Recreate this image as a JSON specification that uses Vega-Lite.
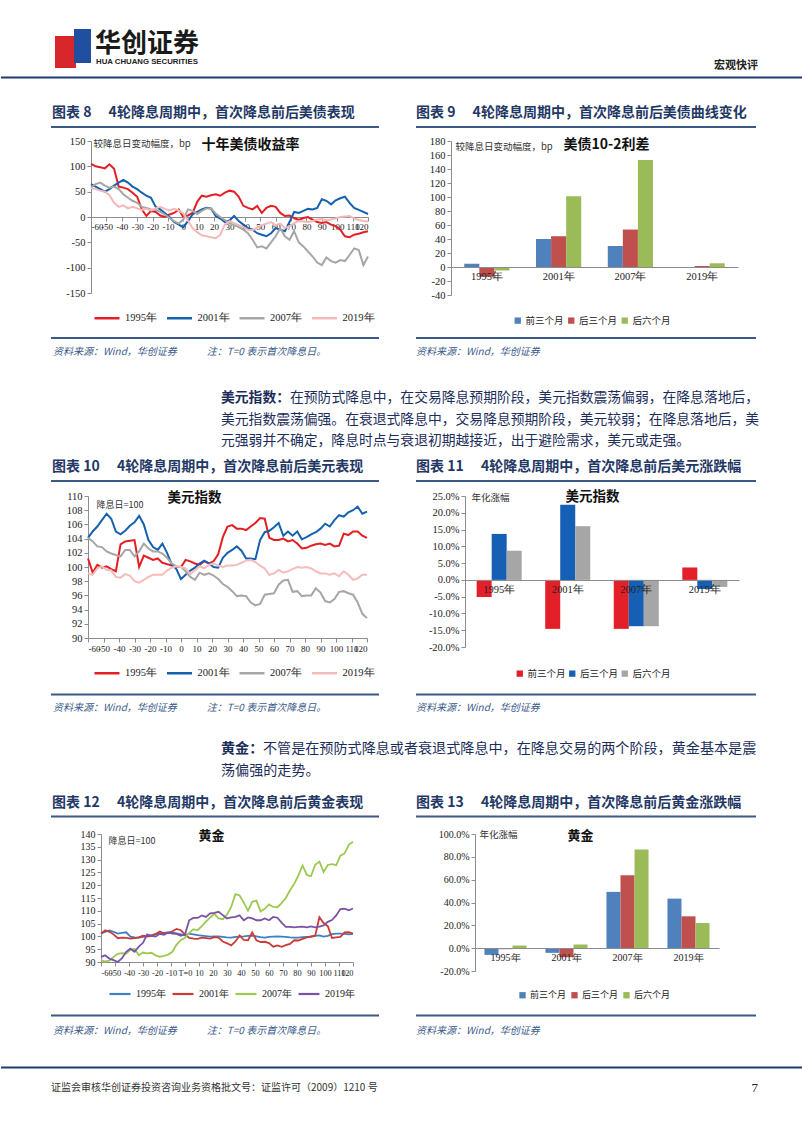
{
"$schema":"https://vega.github.io/schema/vega-lite/v6.json",
"background":"white",
"padding":0,
"spacing":0,
"resolve":{"scale":{"color":"independent","xOffset":"independent"},"legend":{"color":"independent"}},
"config":{
  "font":"Noto Sans CJK SC",
  "view":{"stroke":null},
  "concat":{"spacing":0},
  "axis":{"labelFont":"Liberation Serif","labelFontSize":10.5,"labelColor":"#222","domainColor":"#8c8c8c","tickColor":"#8c8c8c","grid":false,"tickSize":4,"labelPadding":2,"titleFont":"Noto Sans CJK SC","titleFontWeight":"normal","titleFontSize":9.5,"titleColor":"#333","labelOverlap":false},
  "legend":{"labelColor":"#222","padding":0},
  "title":{"font":"Noto Sans CJK SC","fontWeight":"bold","color":"#111","frame":"group","anchor":"middle","baseline":"middle"}
},
"datasets":{
 "blank":[{"k":1}],
 "bond":[
{"t":-60,"1995年":105,"2001年":65,"2007年":58,"2019年":57},
{"t":-57,"1995年":100,"2001年":60,"2007年":65,"2019年":55},
{"t":-54,"1995年":98,"2001年":55,"2007年":68,"2019年":52},
{"t":-51,"1995年":96,"2001年":50,"2007年":62,"2019年":50},
{"t":-48,"1995年":104,"2001年":55,"2007年":58,"2019年":43},
{"t":-45,"1995年":95,"2001年":62,"2007年":60,"2019年":28},
{"t":-42,"1995年":60,"2001年":68,"2007年":55,"2019年":20},
{"t":-39,"1995年":58,"2001年":73,"2007年":45,"2019年":23},
{"t":-36,"1995年":55,"2001年":68,"2007年":38,"2019年":17},
{"t":-33,"1995年":48,"2001年":60,"2007年":32,"2019年":20},
{"t":-30,"1995年":40,"2001年":55,"2007年":28,"2019年":17},
{"t":-27,"1995年":15,"2001年":48,"2007年":20,"2019年":14},
{"t":-24,"1995年":2,"2001年":42,"2007年":18,"2019年":16},
{"t":-21,"1995年":12,"2001年":38,"2007年":15,"2019年":13},
{"t":-18,"1995年":10,"2001年":20,"2007年":14,"2019年":17},
{"t":-15,"1995年":3,"2001年":15,"2007年":10,"2019年":20},
{"t":-12,"1995年":0,"2001年":8,"2007年":5,"2019年":16},
{"t":-9,"1995年":5,"2001年":0,"2007年":-2,"2019年":13},
{"t":-6,"1995年":8,"2001年":-10,"2007年":-8,"2019年":16},
{"t":-3,"1995年":15,"2001年":-15,"2007年":-13,"2019年":13},
{"t":0,"1995年":0,"2001年":-20,"2007年":-5,"2019年":7},
{"t":3,"1995年":3,"2001年":-8,"2007年":15,"2019年":-7},
{"t":6,"1995年":8,"2001年":5,"2007年":12,"2019年":-22},
{"t":9,"1995年":30,"2001年":10,"2007年":6,"2019年":-30},
{"t":12,"1995年":42,"2001年":15,"2007年":12,"2019年":-36},
{"t":15,"1995年":40,"2001年":18,"2007年":17,"2019年":-38},
{"t":18,"1995年":43,"2001年":17,"2007年":17,"2019年":-40},
{"t":21,"1995年":45,"2001年":2,"2007年":7,"2019年":-42},
{"t":24,"1995年":42,"2001年":-3,"2007年":0,"2019年":-35},
{"t":27,"1995年":48,"2001年":-10,"2007年":-6,"2019年":-15},
{"t":30,"1995年":52,"2001年":-7,"2007年":-12,"2019年":-8},
{"t":33,"1995年":50,"2001年":2,"2007年":-16,"2019年":-12},
{"t":36,"1995年":40,"2001年":-8,"2007年":-20,"2019年":-16},
{"t":39,"1995年":22,"2001年":-15,"2007年":-25,"2019年":-20},
{"t":42,"1995年":18,"2001年":-22,"2007年":-32,"2019年":-25},
{"t":45,"1995年":15,"2001年":-25,"2007年":-45,"2019年":-26},
{"t":48,"1995年":22,"2001年":-32,"2007年":-60,"2019年":-21},
{"t":51,"1995年":8,"2001年":-35,"2007年":-58,"2019年":-16},
{"t":54,"1995年":18,"2001年":-38,"2007年":-62,"2019年":-13},
{"t":57,"1995年":22,"2001年":-32,"2007年":-50,"2019年":-10},
{"t":60,"1995年":20,"2001年":-22,"2007年":-38,"2019年":-16},
{"t":63,"1995年":8,"2001年":-25,"2007年":-22,"2019年":-13},
{"t":66,"1995年":2,"2001年":-28,"2007年":-38,"2019年":-22},
{"t":69,"1995年":3,"2001年":-10,"2007年":-45,"2019年":-18},
{"t":72,"1995年":-2,"2001年":10,"2007年":-28,"2019年":-12},
{"t":75,"1995年":-6,"2001年":8,"2007年":-50,"2019年":-8},
{"t":78,"1995年":-2,"2001年":12,"2007年":-58,"2019年":-9},
{"t":81,"1995年":0,"2001年":16,"2007年":-68,"2019年":-10},
{"t":84,"1995年":-5,"2001年":15,"2007年":-78,"2019年":-8},
{"t":87,"1995年":-10,"2001年":18,"2007年":-90,"2019年":-5},
{"t":90,"1995年":-12,"2001年":35,"2007年":-95,"2019年":-4},
{"t":93,"1995年":-10,"2001年":32,"2007年":-80,"2019年":-7},
{"t":96,"1995年":-15,"2001年":25,"2007年":-87,"2019年":-5},
{"t":99,"1995年":-18,"2001年":33,"2007年":-90,"2019年":-3},
{"t":102,"1995年":-25,"2001年":37,"2007年":-85,"2019年":0},
{"t":105,"1995年":-38,"2001年":40,"2007年":-87,"2019年":1},
{"t":108,"1995年":-40,"2001年":28,"2007年":-75,"2019年":2},
{"t":111,"1995年":-35,"2001年":18,"2007年":-62,"2019年":-3},
{"t":114,"1995年":-33,"2001年":14,"2007年":-65,"2019年":-6},
{"t":117,"1995年":-30,"2001年":10,"2007年":-95,"2019年":-8},
{"t":120,"1995年":-28,"2001年":6,"2007年":-78,"2019年":-9}
 ],
 "dxy":[
{"t":-60,"1995年":101.2,"2001年":104.1,"2007年":104.1,"2019年":99.1},
{"t":-57,"1995年":99.2,"2001年":105.0,"2007年":103.6,"2019年":98.9},
{"t":-54,"1995年":100.3,"2001年":105.7,"2007年":102.9,"2019年":99.8},
{"t":-51,"1995年":99.9,"2001年":106.6,"2007年":102.8,"2019年":100.1},
{"t":-48,"1995年":100.1,"2001年":107.5,"2007年":102.2,"2019年":99.6},
{"t":-45,"1995年":99.7,"2001年":106.8,"2007年":101.9,"2019年":99.5},
{"t":-42,"1995年":99.4,"2001年":105.0,"2007年":101.7,"2019年":98.6},
{"t":-39,"1995年":103.2,"2001年":104.6,"2007年":101.5,"2019年":98.5},
{"t":-36,"1995年":103.6,"2001年":105.1,"2007年":102.4,"2019年":99.0},
{"t":-33,"1995年":103.7,"2001年":105.8,"2007年":102.4,"2019年":98.8},
{"t":-30,"1995年":103.8,"2001年":106.3,"2007年":101.5,"2019年":98.0},
{"t":-27,"1995年":100.0,"2001年":107.2,"2007年":102.2,"2019年":97.8},
{"t":-24,"1995年":101.6,"2001年":106.0,"2007年":103.3,"2019年":98.2},
{"t":-21,"1995年":101.3,"2001年":103.8,"2007年":102.6,"2019年":98.6},
{"t":-18,"1995年":101.0,"2001年":102.8,"2007年":102.2,"2019年":98.9},
{"t":-15,"1995年":101.2,"2001年":102.4,"2007年":102.2,"2019年":98.9},
{"t":-12,"1995年":100.6,"2001年":103.3,"2007年":101.9,"2019年":98.9},
{"t":-9,"1995年":100.4,"2001年":102.0,"2007年":101.3,"2019年":99.5},
{"t":-6,"1995年":100.2,"2001年":100.4,"2007年":100.5,"2019年":99.9},
{"t":-3,"1995年":100.0,"2001年":99.7,"2007年":100.1,"2019年":100.1},
{"t":0,"1995年":100.0,"2001年":98.3,"2007年":100.0,"2019年":100.0},
{"t":3,"1995年":101.0,"2001年":98.9,"2007年":99.4,"2019年":99.8},
{"t":6,"1995年":100.8,"2001年":99.5,"2007年":98.6,"2019年":99.0},
{"t":9,"1995年":100.5,"2001年":99.9,"2007年":98.2,"2019年":99.5},
{"t":12,"1995年":100.3,"2001年":100.5,"2007年":99.2,"2019年":100.1},
{"t":15,"1995年":100.8,"2001年":100.9,"2007年":98.9,"2019年":99.8},
{"t":18,"1995年":100.5,"2001年":100.5,"2007年":99.1,"2019年":100.3},
{"t":21,"1995年":100.8,"2001年":100.0,"2007年":98.8,"2019年":100.5},
{"t":24,"1995年":101.8,"2001年":99.9,"2007年":98.3,"2019年":100.2},
{"t":27,"1995年":104.2,"2001年":101.3,"2007年":97.6,"2019年":100.0},
{"t":30,"1995年":105.7,"2001年":102.0,"2007年":97.2,"2019年":100.2},
{"t":33,"1995年":105.9,"2001年":102.4,"2007年":96.6,"2019年":100.2},
{"t":36,"1995年":105.4,"2001年":102.9,"2007年":95.9,"2019年":100.3},
{"t":39,"1995年":105.4,"2001年":102.3,"2007年":96.0,"2019年":100.6},
{"t":42,"1995年":105.2,"2001年":101.2,"2007年":95.9,"2019年":100.9},
{"t":45,"1995年":105.7,"2001年":101.2,"2007年":95.0,"2019年":101.0},
{"t":48,"1995年":106.2,"2001年":101.1,"2007年":94.6,"2019年":100.7},
{"t":51,"1995年":106.9,"2001年":103.8,"2007年":94.8,"2019年":100.2},
{"t":54,"1995年":106.8,"2001年":104.9,"2007年":96.1,"2019年":99.8},
{"t":57,"1995年":104.1,"2001年":105.1,"2007年":96.2,"2019年":98.9},
{"t":60,"1995年":103.8,"2001年":105.6,"2007年":96.3,"2019年":99.1},
{"t":63,"1995年":103.8,"2001年":106.2,"2007年":97.5,"2019年":99.6},
{"t":66,"1995年":104.0,"2001年":104.4,"2007年":98.1,"2019年":99.2},
{"t":69,"1995年":103.6,"2001年":105.0,"2007年":98.2,"2019年":99.4},
{"t":72,"1995年":103.8,"2001年":104.4,"2007年":96.5,"2019年":99.7},
{"t":75,"1995年":103.3,"2001年":105.0,"2007年":96.6,"2019年":100.0},
{"t":78,"1995年":102.6,"2001年":103.9,"2007年":95.9,"2019年":99.9},
{"t":81,"1995年":102.7,"2001年":104.2,"2007年":96.0,"2019年":100.0},
{"t":84,"1995年":103.0,"2001年":104.6,"2007年":96.0,"2019年":99.8},
{"t":87,"1995年":103.2,"2001年":104.9,"2007年":97.0,"2019年":99.4},
{"t":90,"1995年":103.3,"2001年":105.4,"2007年":96.4,"2019年":99.1},
{"t":93,"1995年":103.1,"2001年":106.1,"2007年":95.2,"2019年":99.1},
{"t":96,"1995年":103.3,"2001年":105.7,"2007年":95.0,"2019年":98.9},
{"t":99,"1995年":102.9,"2001年":106.6,"2007年":95.5,"2019年":99.1},
{"t":102,"1995年":103.0,"2001年":107.3,"2007年":96.5,"2019年":98.7},
{"t":105,"1995年":104.7,"2001年":107.1,"2007年":96.6,"2019年":99.4},
{"t":108,"1995年":104.5,"2001年":107.7,"2007年":96.3,"2019年":98.9},
{"t":111,"1995年":105.0,"2001年":108.0,"2007年":96.1,"2019年":98.2},
{"t":114,"1995年":105.0,"2001年":108.5,"2007年":95.0,"2019年":98.4},
{"t":117,"1995年":104.4,"2001年":107.5,"2007年":93.4,"2019年":98.9},
{"t":120,"1995年":104.1,"2001年":107.8,"2007年":92.8,"2019年":98.9}
 ],
 "gold":[
{"t":-60,"1995年":101.2,"2001年":101.1,"2007年":90.7,"2019年":92.0},
{"t":-57,"1995年":101.8,"2001年":102.4,"2007年":90.2,"2019年":92.6},
{"t":-54,"1995年":102.3,"2001年":101.8,"2007年":90.5,"2019年":91.3},
{"t":-51,"1995年":101.8,"2001年":100.8,"2007年":92.0,"2019年":90.7},
{"t":-48,"1995年":101.1,"2001年":99.3,"2007年":93.2,"2019年":90.0},
{"t":-45,"1995年":101.4,"2001年":99.5,"2007年":93.5,"2019年":91.5},
{"t":-42,"1995年":101.6,"2001年":99.4,"2007年":93.3,"2019年":94.0},
{"t":-39,"1995年":99.9,"2001年":99.1,"2007年":94.8,"2019年":95.2},
{"t":-36,"1995年":99.6,"2001年":99.3,"2007年":95.2,"2019年":94.0},
{"t":-33,"1995年":99.5,"2001年":99.6,"2007年":92.6,"2019年":96.0},
{"t":-30,"1995年":99.8,"2001年":100.3,"2007年":93.7,"2019年":97.5},
{"t":-27,"1995年":100.0,"2001年":100.0,"2007年":93.4,"2019年":100.8},
{"t":-24,"1995年":100.5,"2001年":100.1,"2007年":93.6,"2019年":100.2},
{"t":-21,"1995年":100.9,"2001年":100.9,"2007年":92.6,"2019年":99.9},
{"t":-18,"1995年":101.2,"2001年":101.9,"2007年":92.0,"2019年":101.0},
{"t":-15,"1995年":101.4,"2001年":101.2,"2007年":92.4,"2019年":100.6},
{"t":-12,"1995年":101.6,"2001年":101.3,"2007年":92.9,"2019年":101.5},
{"t":-9,"1995年":101.6,"2001年":102.0,"2007年":94.0,"2019年":101.1},
{"t":-6,"1995年":101.2,"2001年":102.9,"2007年":96.8,"2019年":101.0},
{"t":-3,"1995年":100.8,"2001年":102.4,"2007年":98.5,"2019年":100.2},
{"t":0,"1995年":100.4,"2001年":100.8,"2007年":99.5,"2019年":100.8},
{"t":3,"1995年":101.1,"2001年":99.4,"2007年":101.4,"2019年":106.3},
{"t":6,"1995年":100.8,"2001年":99.1,"2007年":102.8,"2019年":107.2},
{"t":9,"1995年":100.5,"2001年":99.0,"2007年":102.4,"2019年":107.2},
{"t":12,"1995年":100.3,"2001年":99.5,"2007年":104.0,"2019年":108.2},
{"t":15,"1995年":100.1,"2001年":99.3,"2007年":105.8,"2019年":107.6},
{"t":18,"1995年":99.9,"2001年":99.1,"2007年":107.4,"2019年":109.0},
{"t":21,"1995年":100.0,"2001年":99.7,"2007年":108.8,"2019年":109.2},
{"t":24,"1995年":100.0,"2001年":99.5,"2007年":107.0,"2019年":109.6},
{"t":27,"1995年":99.8,"2001年":98.0,"2007年":106.7,"2019年":108.3},
{"t":30,"1995年":99.6,"2001年":97.3,"2007年":108.5,"2019年":107.0},
{"t":33,"1995年":99.5,"2001年":96.5,"2007年":111.5,"2019年":107.4},
{"t":36,"1995年":99.8,"2001年":98.0,"2007年":116.5,"2019年":107.6},
{"t":39,"1995年":99.9,"2001年":100.4,"2007年":116.0,"2019年":108.2},
{"t":42,"1995年":100.0,"2001年":98.6,"2007年":113.2,"2019年":106.3},
{"t":45,"1995年":100.2,"2001年":98.5,"2007年":110.0,"2019年":107.4},
{"t":48,"1995年":100.3,"2001年":101.6,"2007年":113.5,"2019年":107.0},
{"t":51,"1995年":100.0,"2001年":98.5,"2007年":114.0,"2019年":106.3},
{"t":54,"1995年":99.7,"2001年":97.8,"2007年":109.8,"2019年":106.3},
{"t":57,"1995年":99.5,"2001年":97.9,"2007年":110.8,"2019年":107.0},
{"t":60,"1995年":99.8,"2001年":97.4,"2007年":112.5,"2019年":106.3},
{"t":63,"1995年":99.9,"2001年":96.0,"2007年":111.5,"2019年":107.6},
{"t":66,"1995年":100.0,"2001年":96.5,"2007年":111.4,"2019年":107.3},
{"t":69,"1995年":99.9,"2001年":95.9,"2007年":113.0,"2019年":105.4},
{"t":72,"1995年":99.8,"2001年":96.6,"2007年":115.0,"2019年":103.7},
{"t":75,"1995年":99.6,"2001年":97.1,"2007年":118.0,"2019年":103.7},
{"t":78,"1995年":99.5,"2001年":98.5,"2007年":120.5,"2019年":103.5},
{"t":81,"1995年":99.5,"2001年":98.4,"2007年":123.8,"2019年":103.7},
{"t":84,"1995年":99.7,"2001年":99.0,"2007年":127.7,"2019年":103.8},
{"t":87,"1995年":99.8,"2001年":99.6,"2007年":124.0,"2019年":103.5},
{"t":90,"1995年":99.8,"2001年":100.0,"2007年":123.5,"2019年":103.9},
{"t":93,"1995年":100.2,"2001年":100.3,"2007年":128.0,"2019年":103.5},
{"t":96,"1995年":100.4,"2001年":107.5,"2007年":129.2,"2019年":103.8},
{"t":99,"1995年":99.9,"2001年":105.2,"2007年":125.2,"2019年":104.3},
{"t":102,"1995年":100.2,"2001年":104.0,"2007年":127.9,"2019年":105.7},
{"t":105,"1995年":100.9,"2001年":99.4,"2007年":128.2,"2019年":106.4},
{"t":108,"1995年":101.1,"2001年":99.6,"2007年":127.8,"2019年":108.2},
{"t":111,"1995年":101.1,"2001年":99.8,"2007年":131.5,"2019年":110.7},
{"t":114,"1995年":101.0,"2001年":101.6,"2007年":132.4,"2019年":110.8},
{"t":117,"1995年":100.8,"2001年":101.7,"2007年":135.8,"2019年":110.2},
{"t":120,"1995年":101.0,"2001年":101.1,"2007年":137.0,"2019年":110.9}
 ],
 "curve":[
{"y":"1995年","p":"前三个月","v":4.5},{"y":"1995年","p":"后三个月","v":-14},{"y":"1995年","p":"后六个月","v":-5},
{"y":"2001年","p":"前三个月","v":40},{"y":"2001年","p":"后三个月","v":44},{"y":"2001年","p":"后六个月","v":101},
{"y":"2007年","p":"前三个月","v":30},{"y":"2007年","p":"后三个月","v":53.5},{"y":"2007年","p":"后六个月","v":153},
{"y":"2019年","p":"前三个月","v":-1.5},{"y":"2019年","p":"后三个月","v":1.4},{"y":"2019年","p":"后六个月","v":5.3}
 ],
 "dxychg":[
{"y":"1995年","p":"前三个月","v":-5.1},{"y":"1995年","p":"后三个月","v":13.7},{"y":"1995年","p":"后六个月","v":8.7},
{"y":"2001年","p":"前三个月","v":-14.6},{"y":"2001年","p":"后三个月","v":22.4},{"y":"2001年","p":"后六个月","v":16.0},
{"y":"2007年","p":"前三个月","v":-14.6},{"y":"2007年","p":"后三个月","v":-13.8},{"y":"2007年","p":"后六个月","v":-13.8},
{"y":"2019年","p":"前三个月","v":3.7},{"y":"2019年","p":"后三个月","v":-2.7},{"y":"2019年","p":"后六个月","v":-2.1}
 ],
 "goldchg":[
{"y":"1995年","p":"前三个月","v":-5.9},{"y":"1995年","p":"后三个月","v":-0.9},{"y":"1995年","p":"后六个月","v":2.3},
{"y":"2001年","p":"前三个月","v":-4.1},{"y":"2001年","p":"后三个月","v":-7.9},{"y":"2001年","p":"后六个月","v":3.2},
{"y":"2007年","p":"前三个月","v":49.3},{"y":"2007年","p":"后三个月","v":63.9},{"y":"2007年","p":"后六个月","v":86.5},
{"y":"2019年","p":"前三个月","v":43.4},{"y":"2019年","p":"后三个月","v":27.9},{"y":"2019年","p":"后六个月","v":22.0}
 ]
},
"vconcat":[
 {"width":802,"height":136,"data":{"name":"blank"},"layer":[
  {"mark":{"type":"rect","color":"#d8262d"},"encoding":{"x":{"value":54},"x2":{"value":75},"y":{"value":36},"y2":{"value":68}}},
  {"mark":{"type":"rect","color":"#1f4f9e"},"encoding":{"x":{"value":73},"x2":{"value":90},"y":{"value":29},"y2":{"value":63}}},
  {"mark":{"type":"text","text":"华创证券","align":"left","baseline":"middle","fontSize":26,"fontWeight":"bold","color":"#1a1a1a"},"encoding":{"x":{"value":94},"y":{"value":44}}},
  {"mark":{"type":"text","text":"HUA CHUANG SECURITIES","align":"left","baseline":"middle","fontSize":7.8,"fontWeight":"bold","font":"Liberation Sans","color":"#222"},"encoding":{"x":{"value":95},"y":{"value":62}}},
  {"mark":{"type":"text","text":"宏观快评","align":"right","baseline":"middle","fontSize":11,"fontWeight":"bold","color":"#222"},"encoding":{"x":{"value":757},"y":{"value":66}}},
  {"mark":{"type":"rule","color":"#1f3c6e","strokeWidth":2},"encoding":{"x":{"value":0},"x2":{"value":802},"y":{"value":77.5}}},
  {"mark":{"type":"text","text":"图表 8\u2003 4轮降息周期中，首次降息前后美债表现","align":"left","baseline":"middle","fontSize":14,"fontWeight":"bold","color":"#1f3864"},"encoding":{"x":{"value":51},"y":{"value":113}}},
  {"mark":{"type":"text","text":"图表 9\u2003 4轮降息周期中，首次降息前后美债曲线变化","align":"left","baseline":"middle","fontSize":14,"fontWeight":"bold","color":"#1f3864"},"encoding":{"x":{"value":415},"y":{"value":113}}},
  {"mark":{"type":"rule","color":"#3b5886","strokeWidth":1.8},"encoding":{"x":{"value":50},"x2":{"value":378},"y":{"value":127}}},
  {"mark":{"type":"rule","color":"#3b5886","strokeWidth":1.8},"encoding":{"x":{"value":415},"x2":{"value":755},"y":{"value":127}}}
 ]},
 {"spacing":0,
  "resolve":{"scale":{"color":"independent","xOffset":"independent"},"legend":{"color":"independent"}},
  "hconcat":[
  {"width":50,"height":10,"data":{"name":"blank"},"mark":{"type":"text","text":""},"encoding":{}},
  {"width":277,"height":152,"data":{"name":"bond"},
   "transform":[{"fold":["1995年","2001年","2007年","2019年"],"as":["s","v"]}],
   "title":{"text":"十年美债收益率","dx":21,"offset":-16,"fontSize":14},
   "mark":{"type":"line","strokeWidth":2},
   "encoding":{
    "x":{"field":"t","type":"quantitative","scale":{"domain":[-60,120],"nice":false},
         "axis":{"title":null,"labelFontSize":9,"values":[-60,-50,-40,-30,-20,-10,0,10,20,30,40,50,60,70,80,90,100,110,120],"labelExpr":"replace(datum.label, '\u2212', '-')","offset":-76,"labelPadding":1}},
    "y":{"field":"v","type":"quantitative","scale":{"domain":[-150,150],"nice":false},
         "axis":{"values":[-150,-100,-50,0,50,100,150],"labelExpr":"replace(datum.label, '\u2212', '-')","minExtent":40,"title":"较降息日变动幅度，bp","titleAngle":0,"titleAlign":"left","titleBaseline":"middle","titleX":2,"titleY":2}},
    "color":{"field":"s","type":"nominal","scale":{"domain":["1995年","2001年","2007年","2019年"],"range":["#e31e24","#1461b0","#a6a6a6","#f5b8b8"]},
         "legend":{"orient":"none","legendX":2,"legendY":163,"direction":"horizontal","title":null,"symbolType":"stroke","symbolSize":625,"symbolStrokeWidth":2.5,"labelFont":"Liberation Serif","labelFontSize":10.5,"labelOffset":4,"columnPadding":4.5}}
   }},
  {"width":287,"height":154,"data":{"name":"curve"},
   "title":{"text":"美债10-2利差","dx":12,"offset":-16,"fontSize":14},
   "mark":{"type":"bar"},
   "encoding":{
    "x":{"field":"y","type":"nominal","sort":null,"scale":{"paddingInner":0.37,"paddingOuter":0.185},
         "axis":{"title":null,"offset":-28,"ticks":false,"tickSize":0,"labelPadding":4,"labelAngle":0,"zindex":1}},
    "xOffset":{"field":"p","type":"nominal","sort":["前三个月","后三个月","后六个月"],"scale":{"paddingInner":0,"paddingOuter":0}},
    "y":{"field":"v","type":"quantitative","scale":{"domain":[-40,180],"nice":false},
         "axis":{"values":[-40,-20,0,20,40,60,80,100,120,140,160,180],"labelExpr":"replace(datum.label, '\u2212', '-')","minExtent":76,"title":"较降息日变动幅度，bp","titleAngle":0,"titleAlign":"left","titleBaseline":"middle","titleX":4,"titleY":5}},
    "color":{"field":"p","type":"nominal","scale":{"domain":["前三个月","后三个月","后六个月"],"range":["#4f81bd","#c0504d","#9bbb59"]},
         "legend":{"orient":"none","legendX":62,"legendY":174.5,"direction":"horizontal","title":null,"symbolType":"square","symbolSize":40,"labelFontSize":9.5,"labelOffset":3,"columnPadding":2.5}}
   }}
 ]},
 {"width":802,"height":163,"data":{"name":"blank"},"layer":[
  {"mark":{"type":"rule","color":"#3b5886","strokeWidth":1.8},"encoding":{"x":{"value":50},"x2":{"value":378},"y":{"value":12}}},
  {"mark":{"type":"rule","color":"#3b5886","strokeWidth":1.8},"encoding":{"x":{"value":415},"x2":{"value":755},"y":{"value":12}}},
  {"mark":{"type":"text","text":"资料来源：Wind，华创证券\u2003\u2003\u2003注：T=0 表示首次降息日。","align":"left","baseline":"middle","fontSize":10,"fontStyle":"italic","color":"#3a5a8a"},"encoding":{"x":{"value":52},"y":{"value":26}}},
  {"mark":{"type":"text","text":"资料来源：Wind，华创证券","align":"left","baseline":"middle","fontSize":10,"fontStyle":"italic","color":"#3a5a8a"},"encoding":{"x":{"value":415},"y":{"value":26}}},
  {"mark":{"type":"text","text":"美元指数：","align":"left","baseline":"middle","fontSize":13.8,"fontWeight":"bold","color":"#1c2d5a"},"encoding":{"x":{"value":220},"y":{"value":72}}},
  {"mark":{"type":"text","text":"在预防式降息中，在交易降息预期阶段，美元指数震荡偏弱，在降息落地后，","align":"left","baseline":"middle","fontSize":13.8,"color":"#1c2d5a"},"encoding":{"x":{"value":289},"y":{"value":72}}},
  {"mark":{"type":"text","text":"美元指数震荡偏强。在衰退式降息中，交易降息预期阶段，美元较弱；在降息落地后，美","align":"left","baseline":"middle","fontSize":13.8,"color":"#1c2d5a"},"encoding":{"x":{"value":220},"y":{"value":94}}},
  {"mark":{"type":"text","text":"元强弱并不确定，降息时点与衰退初期越接近，出于避险需求，美元或走强。","align":"left","baseline":"middle","fontSize":13.8,"color":"#1c2d5a"},"encoding":{"x":{"value":220},"y":{"value":115}}},
  {"mark":{"type":"text","text":"图表 10\u2003 4轮降息周期中，首次降息前后美元表现","align":"left","baseline":"middle","fontSize":14,"fontWeight":"bold","color":"#1f3864"},"encoding":{"x":{"value":51},"y":{"value":141}}},
  {"mark":{"type":"text","text":"图表 11\u2003 4轮降息周期中，首次降息前后美元涨跌幅","align":"left","baseline":"middle","fontSize":14,"fontWeight":"bold","color":"#1f3864"},"encoding":{"x":{"value":415},"y":{"value":141}}},
  {"mark":{"type":"rule","color":"#3b5886","strokeWidth":1.8},"encoding":{"x":{"value":50},"x2":{"value":378},"y":{"value":155}}},
  {"mark":{"type":"rule","color":"#3b5886","strokeWidth":1.8},"encoding":{"x":{"value":415},"x2":{"value":755},"y":{"value":155}}}
 ]},
 {"spacing":0,
  "resolve":{"scale":{"color":"independent","xOffset":"independent"},"legend":{"color":"independent"}},
  "hconcat":[
  {"width":50,"height":10,"data":{"name":"blank"},"mark":{"type":"text","text":""},"encoding":{}},
  {"width":279,"height":142,"data":{"name":"dxy"},
   "transform":[{"fold":["1995年","2001年","2007年","2019年"],"as":["s","v"]}],
   "title":{"text":"美元指数","dx":-33,"offset":-13,"fontSize":13.5},
   "mark":{"type":"line","strokeWidth":2},
   "encoding":{
    "x":{"field":"t","type":"quantitative","scale":{"domain":[-60,120],"nice":false},
         "axis":{"title":null,"labelFontSize":9,"values":[-60,-50,-40,-30,-20,-10,0,10,20,30,40,50,60,70,80,90,100,110,120],"labelExpr":"replace(datum.label, '\u2212', '-')"}},
    "y":{"field":"v","type":"quantitative","scale":{"domain":[90,110],"nice":false,"zero":false},
         "axis":{"values":[90,92,94,96,98,100,102,104,106,108,110],"minExtent":37,"title":"降息日=100","titleAngle":0,"titleAlign":"left","titleBaseline":"middle","titleFontSize":9,"titleX":8,"titleY":8}},
    "color":{"field":"s","type":"nominal","scale":{"domain":["1995年","2001年","2007年","2019年"],"range":["#e31e24","#1461b0","#a6a6a6","#f5bcbc"]},
         "legend":{"orient":"none","legendX":5,"legendY":163,"direction":"horizontal","title":null,"symbolType":"stroke","symbolSize":625,"symbolStrokeWidth":2.5,"labelFont":"Liberation Serif","labelFontSize":10.5,"labelOffset":4,"columnPadding":4.5}}
   }},
  {"width":274,"height":151,"data":{"name":"dxychg"},
   "title":{"text":"美元指数","dx":-9.5,"offset":-12,"fontSize":13.5},
   "mark":{"type":"bar"},
   "encoding":{
    "x":{"field":"y","type":"nominal","sort":null,"scale":{"paddingInner":0.343,"paddingOuter":0.17},
         "axis":{"title":null,"offset":-67,"ticks":false,"tickSize":0,"labelPadding":4,"labelAngle":0,"zindex":1}},
    "xOffset":{"field":"p","type":"nominal","sort":["前三个月","后三个月","后六个月"],"scale":{"paddingInner":0,"paddingOuter":0}},
    "y":{"field":"v","type":"quantitative","scale":{"domain":[-20,25],"nice":false},
         "axis":{"values":[-20,-15,-10,-5,0,5,10,15,20,25],"labelExpr":"replace(format(datum.value, '.1f'), '\u2212', '-') + '%'","minExtent":90,"title":"年化涨幅","titleAngle":0,"titleAlign":"left","titleBaseline":"middle","titleX":6,"titleY":1}},
    "color":{"field":"p","type":"nominal","scale":{"domain":["前三个月","后三个月","后六个月"],"range":["#e3202a","#1560b5","#a6a6a6"]},
         "legend":{"orient":"none","legendX":50,"legendY":172.5,"direction":"horizontal","title":null,"symbolType":"square","symbolSize":40,"labelFontSize":9.5,"labelOffset":3,"columnPadding":1.5}}
   }}
 ]},
 {"width":802,"height":150,"data":{"name":"blank"},"layer":[
  {"mark":{"type":"rule","color":"#3b5886","strokeWidth":1.8},"encoding":{"x":{"value":50},"x2":{"value":378},"y":{"value":15.5}}},
  {"mark":{"type":"rule","color":"#3b5886","strokeWidth":1.8},"encoding":{"x":{"value":415},"x2":{"value":755},"y":{"value":15.5}}},
  {"mark":{"type":"text","text":"资料来源：Wind，华创证券\u2003\u2003\u2003注：T=0 表示首次降息日。","align":"left","baseline":"middle","fontSize":10,"fontStyle":"italic","color":"#3a5a8a"},"encoding":{"x":{"value":52},"y":{"value":28.5}}},
  {"mark":{"type":"text","text":"资料来源：Wind，华创证券","align":"left","baseline":"middle","fontSize":10,"fontStyle":"italic","color":"#3a5a8a"},"encoding":{"x":{"value":415},"y":{"value":28.5}}},
  {"mark":{"type":"text","text":"黄金：","align":"left","baseline":"middle","fontSize":14.1,"fontWeight":"bold","color":"#1c2d5a"},"encoding":{"x":{"value":220},"y":{"value":69.5}}},
  {"mark":{"type":"text","text":"不管是在预防式降息或者衰退式降息中，在降息交易的两个阶段，黄金基本是震","align":"left","baseline":"middle","fontSize":14.1,"color":"#1c2d5a"},"encoding":{"x":{"value":262},"y":{"value":69.5}}},
  {"mark":{"type":"text","text":"荡偏强的走势。","align":"left","baseline":"middle","fontSize":14.1,"color":"#1c2d5a"},"encoding":{"x":{"value":220},"y":{"value":91.5}}},
  {"mark":{"type":"text","text":"图表 12\u2003 4轮降息周期中，首次降息前后黄金表现","align":"left","baseline":"middle","fontSize":14,"fontWeight":"bold","color":"#1f3864"},"encoding":{"x":{"value":51},"y":{"value":123.5}}},
  {"mark":{"type":"text","text":"图表 13\u2003 4轮降息周期中，首次降息前后黄金涨跌幅","align":"left","baseline":"middle","fontSize":14,"fontWeight":"bold","color":"#1f3864"},"encoding":{"x":{"value":415},"y":{"value":123.5}}},
  {"mark":{"type":"rule","color":"#3b5886","strokeWidth":1.8},"encoding":{"x":{"value":50},"x2":{"value":378},"y":{"value":137.5}}},
  {"mark":{"type":"rule","color":"#3b5886","strokeWidth":1.8},"encoding":{"x":{"value":415},"x2":{"value":755},"y":{"value":137.5}}}
 ]},
 {"spacing":0,
  "resolve":{"scale":{"color":"independent","xOffset":"independent"},"legend":{"color":"independent"}},
  "hconcat":[
  {"width":50,"height":10,"data":{"name":"blank"},"mark":{"type":"text","text":""},"encoding":{}},
  {"width":252,"height":128,"data":{"name":"gold"},
   "transform":[{"fold":["1995年","2001年","2007年","2019年"],"as":["s","v"]}],
   "title":{"text":"黄金","dx":-15.5,"offset":-14,"fontSize":13},
   "mark":{"type":"line","strokeWidth":1.8},
   "encoding":{
    "x":{"field":"t","type":"quantitative","scale":{"domain":[-60,120],"nice":false},
         "axis":{"title":null,"labelFontSize":8.3,"values":[-60,-50,-40,-30,-20,-10,0,10,20,30,40,50,60,70,80,90,100,110,120],"labelExpr":"datum.value === 0 ? 'T=0' : replace(datum.label, '\u2212', '-')"}},
    "y":{"field":"v","type":"quantitative","scale":{"domain":[90,140],"nice":false,"zero":false},
         "axis":{"labelFontSize":10,"values":[90,95,100,105,110,115,120,125,130,135,140],"minExtent":50,"title":"降息日=100","titleAngle":0,"titleAlign":"left","titleBaseline":"middle","titleFontSize":9,"titleX":7,"titleY":6}},
    "color":{"field":"s","type":"nominal","scale":{"domain":["1995年","2001年","2007年","2019年"],"range":["#3f7fc2","#cc3a35","#9cc94f","#7a52a6"]},
         "legend":{"orient":"none","legendX":7,"legendY":148,"direction":"horizontal","title":null,"symbolType":"stroke","symbolSize":441,"symbolStrokeWidth":2.2,"labelFont":"Liberation Serif","labelFontSize":10,"labelOffset":4,"columnPadding":2}}
   }},
  {"width":244,"height":137,"data":{"name":"goldchg"},
   "title":{"text":"黄金","dx":-16.5,"offset":-14,"fontSize":13},
   "mark":{"type":"bar"},
   "encoding":{
    "x":{"field":"y","type":"nominal","sort":null,"scale":{"paddingInner":0.31,"paddingOuter":0.155},
         "axis":{"title":null,"offset":-23,"ticks":false,"tickSize":0,"labelPadding":4,"labelAngle":0,"labelFontSize":10,"zindex":1}},
    "xOffset":{"field":"p","type":"nominal","sort":["前三个月","后三个月","后六个月"],"scale":{"paddingInner":0,"paddingOuter":0}},
    "y":{"field":"v","type":"quantitative","scale":{"domain":[-20,100],"nice":false},
         "axis":{"labelFontSize":10,"values":[-20,0,20,40,60,80,100],"labelExpr":"replace(format(datum.value, '.1f'), '\u2212', '-') + '%'","minExtent":118,"title":"年化涨幅","titleAngle":0,"titleAlign":"left","titleBaseline":"middle","titleX":4,"titleY":0}},
    "color":{"field":"p","type":"nominal","scale":{"domain":["前三个月","后三个月","后六个月"],"range":["#4f81bd","#c0504d","#9bbb59"]},
         "legend":{"orient":"none","legendX":43,"legendY":156.5,"direction":"horizontal","title":null,"symbolType":"square","symbolSize":40,"labelFontSize":9,"labelOffset":3,"columnPadding":3}}
   }}
 ]},
 {"width":802,"height":132,"data":{"name":"blank"},"layer":[
  {"mark":{"type":"rule","color":"#3b5886","strokeWidth":1.8},"encoding":{"x":{"value":50},"x2":{"value":378},"y":{"value":14.5}}},
  {"mark":{"type":"rule","color":"#3b5886","strokeWidth":1.8},"encoding":{"x":{"value":415},"x2":{"value":755},"y":{"value":14.5}}},
  {"mark":{"type":"text","text":"资料来源：Wind，华创证券\u2003\u2003\u2003注：T=0 表示首次降息日。","align":"left","baseline":"middle","fontSize":10,"fontStyle":"italic","color":"#3a5a8a"},"encoding":{"x":{"value":52},"y":{"value":29.5}}},
  {"mark":{"type":"text","text":"资料来源：Wind，华创证券","align":"left","baseline":"middle","fontSize":10,"fontStyle":"italic","color":"#3a5a8a"},"encoding":{"x":{"value":415},"y":{"value":29.5}}},
  {"mark":{"type":"rule","color":"#1f3c6e","strokeWidth":2},"encoding":{"x":{"value":0},"x2":{"value":802},"y":{"value":66.5}}},
  {"mark":{"type":"text","text":"证监会审核华创证券投资咨询业务资格批文号：证监许可（2009）1210 号","align":"left","baseline":"middle","fontSize":10,"color":"#333"},"encoding":{"x":{"value":50},"y":{"value":86.5}}},
  {"mark":{"type":"text","text":"7","align":"right","baseline":"middle","fontSize":13,"font":"Liberation Serif","color":"#222"},"encoding":{"x":{"value":757},"y":{"value":86.5}}}
 ]}
]
}
